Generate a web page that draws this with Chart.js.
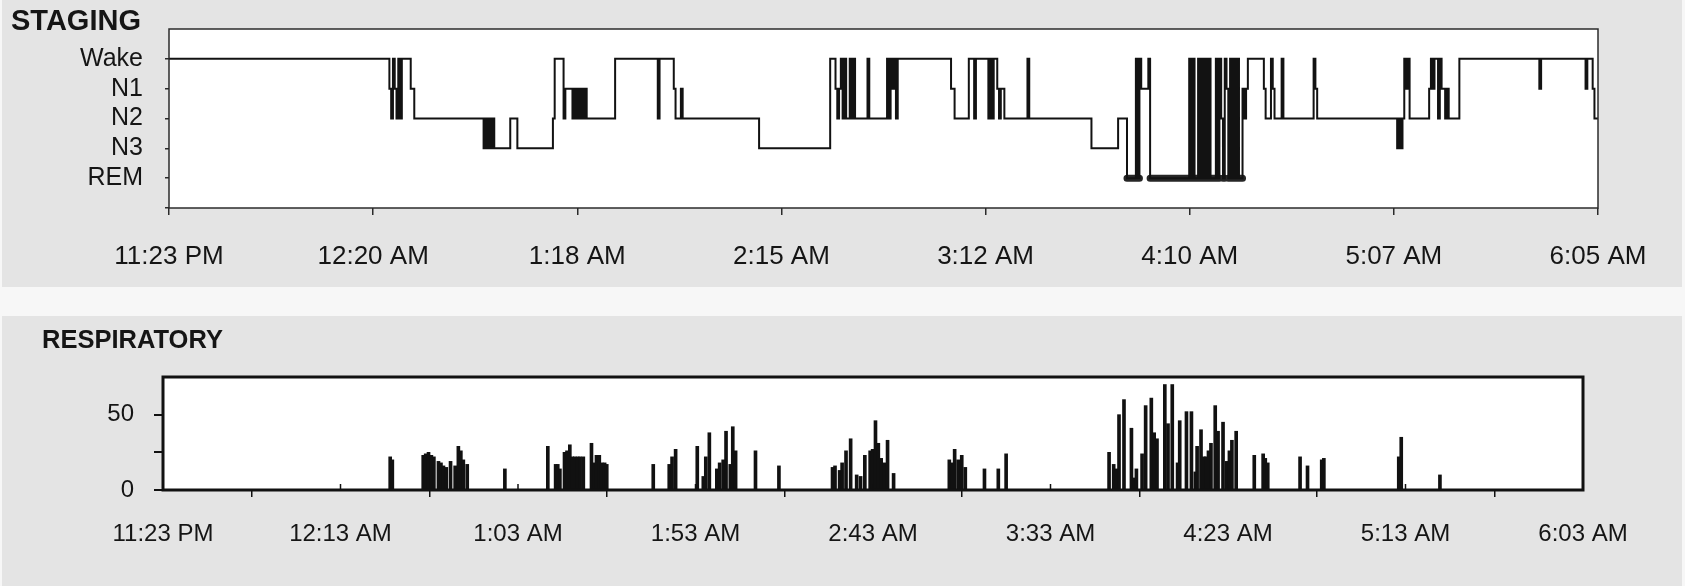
<!DOCTYPE html>
<html>
<head>
<meta charset="utf-8">
<script src="https://cdn.jsdelivr.net/npm/chart.js@4.4.1/dist/chart.umd.min.js"></script>
<style>
  html, body { margin: 0; padding: 0; background: #f7f7f7; }
  body { width: 1685px; height: 586px; position: relative; overflow: hidden;
         font-family: 'Liberation Sans', Arial, sans-serif; }
  .panel { position: absolute; left: 2px; width: 1680px; background: #e4e4e4; }
  #stagingPanel { top: 0; height: 287px; }
  #respPanel { top: 316px; height: 270px; }
  canvas { position: absolute; left: 0; }
  #stagingChart { top: 0; }
  #respChart { top: 290px; }
  .heading { position: absolute; font-weight: bold; color: #151515; line-height: 1; white-space: nowrap; }
  #stagingTitle { left: 11px; top: 5.5px; font-size: 29px; }
  #respTitle { left: 42px; top: 326.5px; font-size: 25.5px; }
</style>
</head>
<body>
<div class="panel" id="stagingPanel"></div>
<div class="panel" id="respPanel"></div>
<canvas id="stagingChart" width="1685" height="287"></canvas>
<canvas id="respChart" width="1685" height="296"></canvas>
<div class="heading" id="stagingTitle">STAGING</div>
<div class="heading" id="respTitle">RESPIRATORY</div>

<script>
// ---- Sleep staging (hypnogram) ----
// Stage names, bottom to top; the y value of a stage is its index here.
const stageLabels = ['REM', 'N3', 'N2', 'N1', 'Wake'];
const stagingTickLabels = ['11:23 PM', '12:20 AM', '1:18 AM', '2:15 AM', '3:12 AM', '4:10 AM', '5:07 AM', '6:05 AM'];
const stagingSpanMin = 402;   // minutes from lights-out to the end of the record

// Stage changes: minute after 11:23 PM at which each stage begins.
const hypnoMinutes = [
  0, 62, 62.5, 63, 63.5, 64, 64.5, 65, 65.5, 68, 69,
  88.5, 89, 89.5, 90, 90.5, 91, 91.5, 96, 98,
  108, 108.5, 111, 111.5, 113.5, 114, 114.5, 115, 115.5, 116, 116.5, 117, 117.5,
  125.5, 137.5, 138, 142, 142.5, 144, 144.5, 166,
  186, 187.5, 188, 188.5, 189, 189.5, 190, 190.5, 191.5, 192, 192.5, 193, 196.5, 197,
  202, 202.5, 203, 203.5, 204, 204.5, 205,
  220, 221, 225, 226.5, 227, 230.5, 231, 231.5, 232, 233, 233.5, 234, 235, 241.5, 242,
  259.5, 267, 269.5, 272, 272.5, 273, 273.5, 275.5, 276,
  287, 287.5, 288, 288.5, 289.5, 290, 290.5, 291, 291.5, 292, 292.5, 293, 294.5, 295, 295.5,
  296, 296.5, 297, 297.5, 298, 298.5, 299, 299.5, 300, 300.5, 301, 302, 302.5, 303, 303.5,
  308, 308.5, 310, 310.5, 311, 313, 313.5, 322, 322.5, 323,
  345.5, 346, 346.5, 347, 347.5, 348, 348.5, 349,
  354.5, 355, 355.5, 356, 357, 357.5, 358, 359, 359.5, 360, 363,
  385.5, 386, 398.5, 399, 400.5, 401, 402
];
const hypnoStages = [
  'Wake', 'N1', 'N2', 'Wake', 'N1', 'N2', 'Wake', 'N2', 'Wake', 'N1', 'N2',
  'N3', 'N2', 'N3', 'N2', 'N3', 'N2', 'N3', 'N2', 'N3',
  'N2', 'Wake', 'N2', 'N1', 'N2', 'N1', 'N2', 'N1', 'N2', 'N1', 'N2', 'N1', 'N2',
  'Wake', 'N2', 'Wake', 'N1', 'N2', 'N1', 'N2', 'N3',
  'Wake', 'N1', 'N2', 'N1', 'Wake', 'N2', 'Wake', 'N2', 'Wake', 'N2', 'Wake', 'N2', 'Wake', 'N2',
  'Wake', 'N2', 'Wake', 'N1', 'Wake', 'N2', 'Wake',
  'N1', 'N2', 'Wake', 'N2', 'Wake', 'N2', 'Wake', 'N2', 'Wake', 'N1', 'N2', 'N1', 'N2', 'Wake', 'N2',
  'N3', 'N2', 'REM', 'Wake', 'REM', 'Wake', 'N1', 'Wake', 'REM',
  'Wake', 'REM', 'Wake', 'REM', 'Wake', 'REM', 'Wake', 'REM', 'Wake', 'REM', 'Wake', 'REM', 'Wake', 'REM', 'Wake',
  'N2', 'REM', 'Wake', 'N1', 'REM', 'Wake', 'REM', 'Wake', 'REM', 'Wake', 'REM', 'N1', 'N2', 'N1', 'Wake',
  'N1', 'N2', 'Wake', 'N1', 'N2', 'Wake', 'N2', 'Wake', 'N1', 'N2',
  'N3', 'N2', 'N3', 'N2', 'Wake', 'N1', 'Wake', 'N2',
  'N1', 'Wake', 'N1', 'Wake', 'N2', 'Wake', 'N1', 'N2', 'N1', 'N2', 'Wake',
  'N1', 'Wake', 'N1', 'Wake', 'N1', 'N2', 'N2'
];

// ---- Respiratory events ----
const respTickLabels = ['11:23 PM', '12:13 AM', '1:03 AM', '1:53 AM', '2:43 AM', '3:33 AM', '4:23 AM', '5:13 AM', '6:03 AM'];
const respSpanMin = 400;
const respMinutes = [
  64.0, 64.6, 73.3, 74.0, 74.8, 75.6, 76.3, 77.6, 78.3, 79.0, 79.8, 81.0, 82.3, 83.2, 83.9, 84.6, 85.7,
  96.3, 108.4, 110.6, 111.2, 111.8, 113.1, 113.8, 114.6, 115.3, 116.0, 116.8, 117.5, 118.4,
  120.7, 121.4, 122.1, 122.9, 123.6, 124.4, 125.0,
  138.1, 142.6, 143.4, 144.4, 150.5, 152.2, 152.9, 153.9, 156.0, 156.8, 157.8, 158.6, 159.8, 160.5, 161.3,
  166.9, 173.5,
  188.6, 189.3, 190.6, 191.3, 192.4, 193.7, 195.4, 196.5, 197.7, 199.2, 199.9, 200.7, 201.5, 202.3, 203.3, 204.1, 205.8,
  221.5, 222.3, 223.0, 224.0, 225.0, 226.0, 231.4, 235.3, 237.5,
  266.5, 267.8, 268.5, 269.3, 270.7, 272.8, 273.5, 274.2, 275.8, 276.8, 278.4, 279.2, 280.0,
  282.2, 283.1, 284.3, 285.8, 286.4, 288.3, 289.7, 290.8, 291.3, 292.4, 293.2, 293.8, 294.5, 295.2,
  296.4, 297.2, 298.6, 299.6, 300.4, 301.1, 302.3,
  307.4, 309.9, 310.5, 311.2, 320.3, 322.4, 326.4, 327.0, 348.1, 348.8, 359.7
];
const respValues = [
  22, 20, 23, 24, 25, 23, 22, 19, 18, 16, 15, 19, 16, 29, 26, 20, 17,
  14, 29, 17, 17, 14, 25, 26, 30, 22, 22, 22, 22, 22,
  31, 18, 23, 23, 18, 18, 17,
  17, 17, 22, 27, 29, 9, 22, 38, 14, 18, 20, 39, 17, 42, 26,
  26, 16,
  15, 16, 13, 18, 26, 34, 10, 9, 23, 26, 27, 46, 31, 21, 18, 33, 11,
  20, 18, 27, 20, 23, 15, 14, 14, 24,
  25, 17, 14, 50, 60, 41, 8, 14, 24, 56, 61, 38, 34,
  70, 44, 70, 18, 46, 52, 52, 12, 29, 40, 22, 22, 26, 31,
  56, 39, 45, 19, 26, 33, 39,
  23, 24, 21, 18, 22, 16, 20, 21, 22, 35, 10
];

// ---- Shared helpers ----
const FONT = "'Liberation Sans', Arial, sans-serif";
const TEXT = '#151515';

// White plot area behind the data, box drawn around it afterwards.
const plotFrame = {
  id: 'plotFrame',
  beforeDraw(chart) {
    const { ctx, chartArea: a } = chart;
    ctx.save();
    ctx.fillStyle = '#ffffff';
    ctx.fillRect(a.left, a.top, a.right - a.left, a.bottom - a.top);
    ctx.restore();
  },
  afterDatasetsDraw(chart, args, opts) {
    const { ctx, chartArea: a } = chart;
    ctx.save();
    ctx.strokeStyle = opts.color;
    ctx.lineWidth = opts.width;
    ctx.strokeRect(a.left, a.top, a.right - a.left, a.bottom - a.top);
    if (opts.innerTicks) {
      const xs = chart.scales.x;
      ctx.lineWidth = 1.5;
      xs.ticks.forEach(t => {
        const px = xs.getPixelForValue(t.value);
        ctx.beginPath();
        ctx.moveTo(px, a.bottom);
        ctx.lineTo(px, a.bottom - opts.innerTicks);
        ctx.stroke();
      });
    }
    ctx.restore();
  }
};

function evenTicks(labels, span) {
  return labels.map((_, i) => ({ value: i * span / (labels.length - 1) }));
}

// Fixed axis widths; label overhang must not push the plot box around.
function fixWidth(w) {
  return s => { s.width = w; s.paddingTop = 0; s.paddingBottom = 0; };
}

// ---- Staging chart ----
const hypnoPoints = hypnoMinutes.map((m, i) => ({ x: m, y: stageLabels.indexOf(hypnoStages[i]) }));

// REM periods are drawn again as a heavy bar along the REM level.
const remPoints = [];
hypnoMinutes.forEach((m, i) => {
  if (hypnoStages[i] === 'REM') {
    const end = i + 1 < hypnoMinutes.length ? hypnoMinutes[i + 1] : stagingSpanMin;
    remPoints.push({ x: m, y: 0 }, { x: end, y: 0 }, { x: end, y: null });
  }
});

new Chart(document.getElementById('stagingChart'), {
  type: 'line',
  data: {
    datasets: [
      { data: hypnoPoints, stepped: true, borderColor: '#121212', borderWidth: 2,
        pointRadius: 0, fill: false },
      { data: remPoints, borderColor: '#262626', borderWidth: 7, borderCapStyle: 'round',
        pointRadius: 0, fill: false, spanGaps: false }
    ]
  },
  options: {
    responsive: false, animation: false, devicePixelRatio: 1,
    layout: { padding: { top: 29, right: 87, left: 0, bottom: 0 } },
    plugins: {
      legend: { display: false }, tooltip: { enabled: false },
      plotFrame: { color: '#2b2b2b', width: 1.5 }
    },
    scales: {
      x: {
        type: 'linear', min: 0, max: stagingSpanMin, offset: false,
        afterBuildTicks: s => { s.ticks = evenTicks(stagingTickLabels, stagingSpanMin); },
        afterFit: s => { s.height = 79; },
        border: { display: false },
        grid: { display: true, drawOnChartArea: false, drawTicks: true, tickLength: 7,
                color: '#2b2b2b', lineWidth: 1.5 },
        ticks: { autoSkip: false, maxRotation: 0, padding: 26, color: TEXT,
                 font: { family: FONT, size: 26 },
                 callback: (v, i) => stagingTickLabels[i] }
      },
      y: {
        type: 'linear', min: -1, max: 5,
        afterBuildTicks: s => { s.ticks = [-1, 0, 1, 2, 3, 4].map(v => ({ value: v })); },
        afterFit: fixWidth(169),
        border: { display: false },
        grid: { display: true, drawOnChartArea: false, drawTicks: true, tickLength: 4,
                color: '#2b2b2b', lineWidth: 1.5 },
        ticks: { padding: 22, color: TEXT, font: { family: FONT, size: 25 },
                 callback: v => (stageLabels[v] !== undefined ? stageLabels[v] : '') }
      }
    }
  },
  plugins: [plotFrame]
});

// ---- Respiratory chart ----
const respPoints = respMinutes.map((m, i) => ({ x: m, y: respValues[i] }));

new Chart(document.getElementById('respChart'), {
  type: 'bar',
  data: {
    datasets: [{ data: respPoints, backgroundColor: '#111111', borderWidth: 0, barThickness: 3 }]
  },
  options: {
    responsive: false, animation: false, devicePixelRatio: 1,
    layout: { padding: { top: 87, right: 102, left: 0, bottom: 0 } },
    plugins: {
      legend: { display: false }, tooltip: { enabled: false },
      plotFrame: { color: '#111111', width: 3, innerTicks: 6 }
    },
    scales: {
      x: {
        type: 'linear', min: 0, max: respSpanMin, offset: false,
        afterBuildTicks: s => { s.ticks = evenTicks(respTickLabels, respSpanMin); },
        afterFit: s => { s.height = 96; },
        border: { display: false },
        grid: { display: true, drawOnChartArea: false, drawTicks: true, tickLength: 7,
                color: '#111111', lineWidth: 1.5 },
        ticks: { autoSkip: false, maxRotation: 0, padding: 23, color: TEXT,
                 font: { family: FONT, size: 24 },
                 callback: (v, i) => respTickLabels[i] }
      },
      y: {
        type: 'linear', min: 0, max: 75,
        afterBuildTicks: s => { s.ticks = [0, 25, 50].map(v => ({ value: v })); },
        afterFit: fixWidth(163),
        border: { display: false },
        grid: { display: true, drawOnChartArea: false, drawTicks: true, tickLength: 9,
                color: '#111111', lineWidth: 2 },
        ticks: { padding: 20, color: TEXT, font: { family: FONT, size: 24 },
                 callback: v => (v % 50 === 0 ? String(v) : '') }
      }
    }
  },
  plugins: [plotFrame]
});
</script>
</body>
</html>
